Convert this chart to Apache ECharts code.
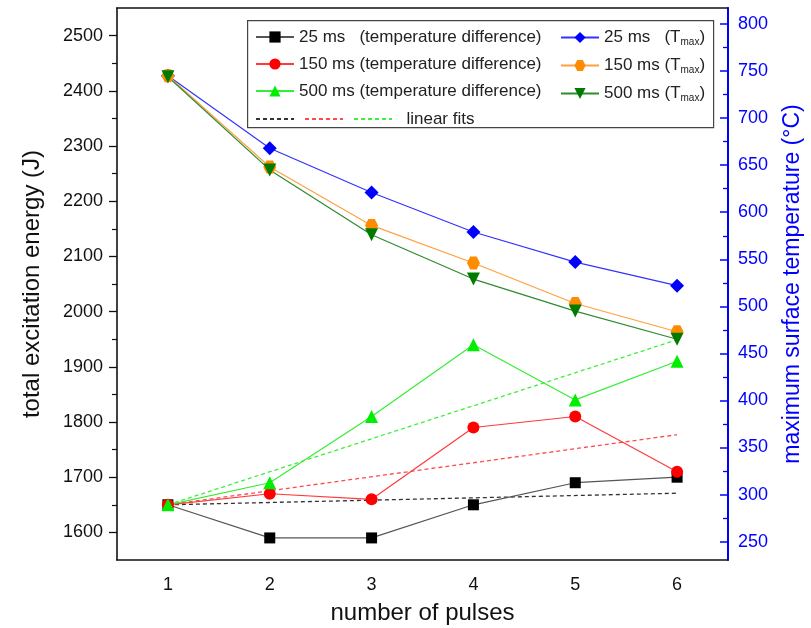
<!DOCTYPE html>
<html>
<head>
<meta charset="utf-8">
<title>excitation energy vs pulses</title>
<script src="https://cdn.jsdelivr.net/npm/echarts@6/dist/echarts.min.js"></script>
<style>
  html, body { margin: 0; padding: 0; background: #fff; }
  #chart { width: 811px; height: 628px; }
</style>
</head>
<body>
<div id="chart"></div>
<script>
// data
const pulses = ['1', '2', '3', '4', '5', '6'];
const diff25 = [1650, 1590, 1590, 1650, 1690, 1700];
const diff150 = [1650, 1670, 1660, 1790, 1810, 1710];
const diff500 = [1650, 1690, 1810, 1940, 1840, 1910];
const tmax25 = [745, 668, 621, 579, 547, 522];
const tmax150 = [745, 648, 586, 546, 503, 473];
const tmax500 = [744, 645, 576, 529, 495, 465];
// linear fits, only the two end points are drawn
const fit25 = [1650, null, null, null, null, 1671];
const fit150 = [1650, null, null, null, null, 1777];
const fit500 = [1650, null, null, null, null, 1949];
// tick labels
const energyTicks = [1600, 1700, 1800, 1900, 2000, 2100, 2200, 2300, 2400, 2500];
const tempTicks = [250, 300, 350, 400, 450, 500, 550, 600, 650, 700, 750, 800];

const FONT = 'Arial, "Liberation Sans", sans-serif';
const hexagon = 'path://M-50,0 L-25,-43.3 L25,-43.3 L50,0 L25,43.3 L-25,43.3 Z';

const chart = echarts.init(document.getElementById('chart'));

function dataSeries(name, data, yAxisIndex, symbol, size, markColor, lineColor, extra) {
  return Object.assign({
    name: name,
    type: 'line',
    data: data,
    yAxisIndex: yAxisIndex,
    symbol: symbol,
    symbolSize: size,
    showAllSymbol: true,
    itemStyle: { color: markColor },
    lineStyle: { color: lineColor, width: 1.2 },
    emphasis: { disabled: true },
    animation: false,
  }, extra || {});
}

function fitSeries(name, data, color) {
  return {
    name: name,
    type: 'line',
    data: data,
    connectNulls: true,
    symbol: 'none',
    lineStyle: { color: color, width: 1.3, type: [4, 3] },
    itemStyle: { color: color },
    emphasis: { disabled: true },
    animation: false,
    z: 1,
  };
}

const legendText = { fontSize: 17, color: '#222', fontFamily: FONT, lineHeight: 18 };
const subRich = {
  sub: { fontSize: 10, fontFamily: FONT, color: '#222', lineHeight: 18, padding: [9, 0, 0, 0] },
};

const legendBase = {
  orient: 'vertical',
  top: 23,
  itemWidth: 38,
  itemHeight: 14,
  itemGap: 9,
  selectedMode: false,
  padding: 5,
};

const option = {
  animation: false,
  textStyle: { fontFamily: FONT },
  grid: {
    left: 117,
    right: 83,
    top: 8,
    bottom: 68,
    containLabel: false,
    outerBoundsMode: 'none',
  },
  xAxis: [
    {
      type: 'category',
      data: pulses,
      position: 'bottom',
      name: 'number of pulses',
      nameLocation: 'middle',
      nameGap: 41,
      nameTextStyle: { fontSize: 24, color: '#111', fontFamily: FONT },
      axisLine: { lineStyle: { color: '#111', width: 1.6 } },
      axisTick: { alignWithLabel: true, length: 8, lineStyle: { color: '#111', width: 1.3 } },
      axisLabel: { fontSize: 18, color: '#111', margin: 16, fontFamily: FONT },
      splitLine: { show: false },
    },
    {
      type: 'category',
      data: pulses,
      position: 'top',
      axisLine: { lineStyle: { color: '#111', width: 1.6 } },
      axisTick: { alignWithLabel: true, inside: true, length: 8, lineStyle: { color: '#111', width: 1.3 } },
      axisLabel: { show: false },
      splitLine: { show: false },
    },
  ],
  yAxis: [
    {
      type: 'value',
      position: 'left',
      min: 1550,
      max: 2550,
      splitNumber: 10,
      name: 'total excitation energy (J)',
      nameLocation: 'middle',
      nameGap: 73,
      nameTextStyle: { fontSize: 24, color: '#111', fontFamily: FONT },
      axisLine: { show: true, lineStyle: { color: '#111', width: 1.6 } },
      axisTick: { show: true, length: 8, customValues: energyTicks, lineStyle: { color: '#111', width: 1.3 } },
      minorTick: { show: true, splitNumber: 2, length: 5, lineStyle: { color: '#111', width: 1.2 } },
      axisLabel: {
        fontSize: 18, color: '#111', margin: 14, fontFamily: FONT,
        customValues: energyTicks,
        formatter: function (v) { return String(v); },
      },
      splitLine: { show: false },
    },
    {
      type: 'value',
      position: 'right',
      min: 230.5,
      max: 817,
      splitNumber: 12,
      name: 'maximum surface temperature (°C)',
      nameLocation: 'middle',
      nameGap: 53,
      nameRotate: 90,
      nameTextStyle: { fontSize: 23, color: '#0000ff', fontFamily: FONT },
      axisLine: { show: true, lineStyle: { color: '#0000ff', width: 2 } },
      axisTick: { show: true, inside: true, length: 8, customValues: tempTicks, lineStyle: { color: '#0000ff', width: 1.5 } },
      minorTick: { show: true, splitNumber: 2, length: 5, lineStyle: { color: '#0000ff', width: 1.3 } },
      axisLabel: {
        fontSize: 18, color: '#0000ff', margin: 10, fontFamily: FONT,
        customValues: tempTicks,
        formatter: function (v) { return String(v); },
      },
      splitLine: { show: false },
    },
  ],
  legend: [
    Object.assign({}, legendBase, {
      data: ['25 ms diff', '150 ms diff', '500 ms diff'],
      left: 250,
      textStyle: legendText,
      formatter: function (name) {
        if (name === '25 ms diff') return '25 ms   (temperature difference)';
        if (name === '150 ms diff') return '150 ms (temperature difference)';
        return '500 ms (temperature difference)';
      },
    }),
    Object.assign({}, legendBase, {
      data: ['25 ms Tmax', '150 ms Tmax', '500 ms Tmax'],
      left: 555,
      textStyle: Object.assign({ rich: subRich }, legendText),
      formatter: function (name) {
        if (name === '25 ms Tmax') return '25 ms   (T{sub|max})';
        if (name === '150 ms Tmax') return '150 ms (T{sub|max})';
        return '500 ms (T{sub|max})';
      },
    }),
    Object.assign({}, legendBase, {
      data: ['fit 25', 'fit 150', 'fit 500'],
      orient: 'horizontal',
      left: 250,
      top: 105,
      itemGap: 5,
      itemStyle: { opacity: 0 },
      textStyle: legendText,
      formatter: function (name) {
        return name === 'fit 500' ? '  linear fits' : '';
      },
    }),
  ],
  graphic: [
    {
      type: 'rect',
      left: 247,
      top: 20,
      z: 3,
      shape: { width: 466, height: 107 },
      style: { fill: '#fff', stroke: '#444', lineWidth: 1.2 },
    },
  ],
  series: [
    fitSeries('fit 25', fit25, '#333333'),
    fitSeries('fit 150', fit150, '#ff4a4a'),
    fitSeries('fit 500', fit500, '#3cf03c'),
    dataSeries('25 ms Tmax', tmax25, 1, 'diamond', 14, '#0000ff', '#3333ff'),
    dataSeries('150 ms Tmax', tmax150, 1, hexagon, 13, '#ff8c00', '#ffa040'),
    dataSeries('500 ms Tmax', tmax500, 1, 'triangle', 13, '#007a00', '#2e8b2e', { symbolRotate: 180 }),
    dataSeries('25 ms diff', diff25, 0, 'rect', 11, '#000000', '#555555'),
    dataSeries('150 ms diff', diff150, 0, 'circle', 12, '#ff0000', '#ff3a3a'),
    dataSeries('500 ms diff', diff500, 0, 'triangle', 13, '#00ee00', '#33ee33'),
  ],
};

chart.setOption(option);
</script>
</body>
</html>
